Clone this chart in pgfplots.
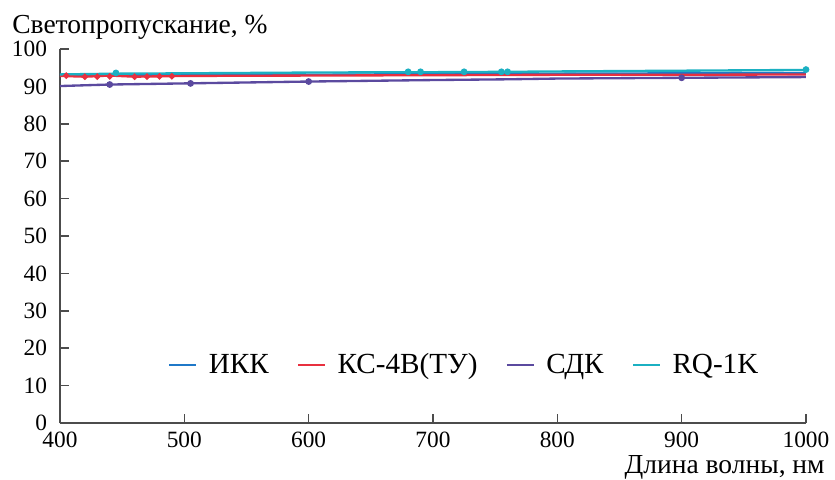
\documentclass[border=0pt]{standalone}
\usepackage{pgfplots}
\pgfplotsset{compat=1.18}
\usepackage{fontspec}
\setmainfont{Liberation Serif}
\definecolor{ikk}{HTML}{1F78C8}
\definecolor{ksred}{HTML}{E8303F}
\definecolor{sdk}{HTML}{5B4A9F}
\definecolor{rq}{HTML}{1BB0C2}
\begin{document}
\begin{tikzpicture}
\begin{axis}[
  width=447.6pt, height=224.4pt, scale only axis,
  xmin=400, xmax=1000, ymin=0, ymax=100,
  xtick={400,500,...,1000}, ytick={0,10,...,100},
  axis x line*=bottom, axis y line*=left,
  axis line style={black!70, line width=0.9pt},
  tick style={black!70, line width=0.9pt},
  xtick align=inside, ytick align=inside, major tick length=5.4pt,
  /pgf/number format/assume math mode=true,
  /pgf/number format/1000 sep={},
  tick label style={font=\fontsize{14}{16}\selectfont},
  x tick label style={yshift=-2pt},
  y tick label style={xshift=-4.3pt},
  ylabel={Светопропускание, \%},
  every axis y label/.style={at={(rel axis cs:0,1)}, anchor=base west, inner sep=0pt, xshift=-28.8pt, yshift=9.6pt, font=\fontsize{16.5}{18}\selectfont},
  xlabel={Длина волны, нм},
  every axis x label/.style={at={(rel axis cs:1,0)}, anchor=base east, inner sep=0pt, xshift=11.4pt, yshift=-30pt, font=\fontsize{16.5}{18}\selectfont},
  legend style={at={(rel axis cs:0.1448,0.155)}, anchor=west, draw=none, fill=none, inner sep=0pt,
    legend columns=4, font=\fontsize{17.5}{19}\selectfont,
    /tikz/every odd column/.append style={column sep=5pt},
    /tikz/every even column/.append style={column sep=15pt}},
  legend image code/.code={\draw[#1, line width=1.3pt] (0pt,0pt) -- (16pt,0pt);},
  every axis plot/.append style={line width=1.4pt},
]
\addplot[color=ikk] coordinates {(400,92.9) (500,93.0) (600,93.1) (700,93.3) (800,93.4) (900,93.5) (1000,93.6)};
\addlegendentry{ИКК}
\addplot[color=ksred] coordinates {(400,92.8) (420,92.6) (440,92.9) (460,92.6) (480,92.7) (500,92.8) (600,92.9) (700,93.0) (800,93.1) (900,93.1) (1000,93.2)};
\addlegendentry{КС-4В(ТУ)}
\addplot[color=sdk] coordinates {(400,90.1) (440,90.5) (500,90.8) (600,91.3) (700,91.7) (760,91.9) (800,92.1) (900,92.3) (1000,92.5)};
\addlegendentry{СДК}
\addplot[color=rq] coordinates {(400,93.2) (445,93.4) (500,93.5) (600,93.7) (680,93.8) (700,93.8) (760,93.9) (800,94.0) (900,94.2) (1000,94.4)};
\addlegendentry{RQ-1K}
\addplot[only marks, mark=*, mark size=1.1pt, color=ksred, forget plot] coordinates {(405,92.9) (420,92.6) (430,92.6) (440,92.7) (460,92.6) (470,92.6) (480,92.7) (490,92.7)};
\addplot[only marks, mark=*, mark size=1.3pt, color=sdk, forget plot] coordinates {(440,90.5) (505,90.8) (600,91.3) (900,92.3)};
\addplot[only marks, mark=*, mark size=1.3pt, color=rq, forget plot] coordinates {(445,93.6) (680,93.9) (690,93.9) (725,93.9) (755,93.9) (760,93.9) (1000,94.5)};
\end{axis}
\pgfresetboundingbox
\useasboundingbox (-36pt,-33.6pt) rectangle (465pt,253.8pt);
\end{tikzpicture}
\end{document}
